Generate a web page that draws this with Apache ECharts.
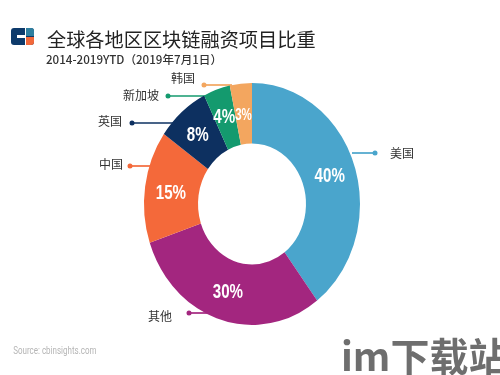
<!DOCTYPE html>
<html><head><meta charset="utf-8">
<style>html,body{margin:0;padding:0;background:#fff}#c{width:500px;height:375px}</style>
<script src="https://cdn.jsdelivr.net/npm/echarts@6/dist/echarts.min.js"></script>
</head><body><div id="c"></div>
<script>
const categories = ['美国','其他','中国','英国','新加坡','韩国'];
const seriesValues = [39.7, 30.1, 15, 7.9, 4, 3.3];
const valueLabels = ['40%','30%','15%','8%','4%','3%'];
const colors = ['#4aa5cc','#a3267f','#f4693a','#0d3060','#149a6e','#f3a65f'];

const CX = 252, CY = 204, RX = 108, R0X = 54, SY = 121/108;
const labelFont = '"Noto Sans CJK SC"';
const leaders = [
  {dot:[375,153], end:[352,153], text:[402,153]},
  {dot:[189,313], end:[208,313], text:[160,316]},
  {dot:[130,166], end:[150,166], text:[111,164]},
  {dot:[132,123], end:[175,123], text:[110,121]},
  {dot:[168,96],  end:[205,96],  text:[141,95]},
  {dot:[204,85],  end:[232,85],  text:[183,78]}
];
const pctSize = [21,21,21,21,21,16];
const pctShift = [[0,1],[0,0],[0,2],[-1,1],[-1,0],[0,3]];
const total = seriesValues.reduce((a,b)=>a+b,0);

function renderItem(params, api){
  const i = params.dataIndex;
  let before = 0;
  for(let k=0;k<i;k++) before += seriesValues[k];
  const a0 = before/total*2*Math.PI - Math.PI/2;
  const a1 = (before+api.value(1))/total*2*Math.PI - Math.PI/2;
  const mid = (a0+a1)/2, rm = (RX+R0X)/2 + 1;
  const L = leaders[i];
  return {type:'group', children:[
    {type:'sector', x:CX, y:CY, scaleY:SY, originX:0, originY:0,
     shape:{cx:0,cy:0,r:RX,r0:R0X,startAngle:a0,endAngle:a1,clockwise:true},
     style:{fill:colors[i]}, z2:5},
    {type:'line', shape:{x1:L.dot[0],y1:L.dot[1],x2:L.end[0],y2:L.end[1]},
     style:{stroke:colors[i],lineWidth:1.7}, z2:1},
    {type:'circle', shape:{cx:L.dot[0],cy:L.dot[1],r:2.5}, style:{fill:colors[i]}, z2:1},
    {type:'text', x:L.text[0], y:L.text[1],
     style:{text:categories[i],fill:'#333',font:'12px '+labelFont,align:'center',verticalAlign:'middle'}, z2:1},
    {type:'text', x:CX+rm*Math.cos(mid)+pctShift[i][0], y:CY+rm*SY*Math.sin(mid)+pctShift[i][1], scaleX:0.72, originX:0,
     style:{text:valueLabels[i],fill:'#fff',font:'bold '+pctSize[i]+'px "Liberation Sans"',align:'center',verticalAlign:'middle'}, z2:10}
  ]};
}

const chart = echarts.init(document.getElementById('c'), null, {renderer:'canvas'});
chart.setOption({
  animation:false,
  backgroundColor:'#fff',
  title:[
    {text:'全球各地区区块链融资项目比重', left:42, top:25,
     textStyle:{fontFamily:labelFont,fontSize:19.2,fontWeight:'normal',color:'#222'}},
    {text:'2014-2019YTD（2019年7月1日）', left:41, top:49,
     textStyle:{fontFamily:labelFont,fontSize:11.6,fontWeight:500,color:'#333'}}
  ],
  graphic:[
    {type:'rect', shape:{x:11,y:28,width:23,height:17,r:3}, style:{fill:'#0d3a6b'}},
    {type:'rect', shape:{x:26,y:28,width:8,height:8,r:[0,3,0,0]}, style:{fill:'#2f7f9f'}},
    {type:'rect', shape:{x:26,y:37,width:8,height:8,r:[0,0,3,0]}, style:{fill:'#f2683a'}},
    {type:'rect', shape:{x:17,y:35,width:9,height:3}, style:{fill:'#fff'}},
    {type:'rect', shape:{x:25,y:28,width:1,height:17}, style:{fill:'#fff'}},
    {type:'text', x:11, y:346, scaleX:0.8, originX:11,
     style:{text:'Source: cbinsights.com',fill:'#b5b5b5',font:'10px Roboto'}},
    {type:'text', x:341, y:337, style:{text:'im下载站',fill:'#6e6e6e',font:'bold 39px "Noto Sans CJK SC"'}}
  ],
  series:[{
    type:'custom',
    coordinateSystem:'none',
    renderItem,
    silent:true,
    data:categories.map((c,i)=>[c,seriesValues[i]])
  }]
});
</script></body></html>
